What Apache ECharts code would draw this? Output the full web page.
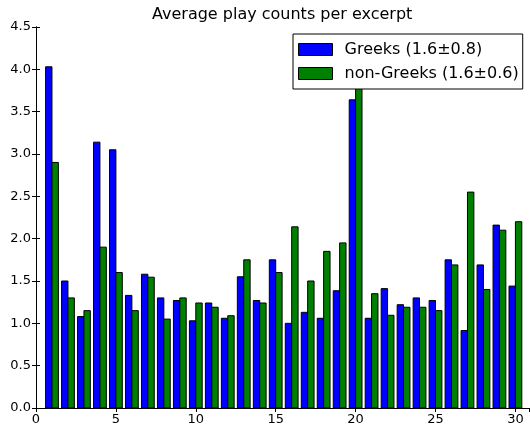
<!DOCTYPE html>
<html>
<head>
<meta charset="utf-8">
<script src="https://cdn.jsdelivr.net/npm/echarts@6/dist/echarts.min.js"></script>
<style>
  html, body { margin: 0; padding: 0; background: #fff; }
  #chart { width: 530px; height: 426px; }
</style>
</head>
<body>
<div id="chart"></div>
<script>
// Excerpt numbers along the x axis
const excerpts = [1, 2, 3, 4, 5, 6, 7, 8, 9, 10, 11, 12, 13, 14, 15,
                  16, 17, 18, 19, 20, 21, 22, 23, 24, 25, 26, 27, 28, 29, 30];

// Average play counts per excerpt for each listener group
const greeks = [4.03, 1.50, 1.08, 3.14, 3.05, 1.33, 1.58, 1.30, 1.27, 1.03,
                1.24, 1.06, 1.55, 1.27, 1.75, 1.00, 1.13, 1.06, 1.385, 3.64,
                1.06, 1.41, 1.22, 1.30, 1.27, 1.75, 0.915, 1.69, 2.16, 1.44];
const nonGreeks = [2.90, 1.30, 1.15, 1.90, 1.60, 1.15, 1.545, 1.05, 1.30, 1.24,
                   1.19, 1.09, 1.75, 1.24, 1.60, 2.14, 1.50, 1.85, 1.95, 3.95,
                   1.35, 1.095, 1.19, 1.19, 1.15, 1.69, 2.55, 1.40, 2.10, 2.20];

const seriesNames = ['Greeks (1.6\u00b10.8)', 'non-Greeks (1.6\u00b10.6)'];
const xTicks = [0, 5, 10, 15, 20, 25, 30];
const yTicks = [0, 0.5, 1, 1.5, 2, 2.5, 3, 3.5, 4, 4.5];

const FONT = 'DejaVu Sans';
const BLUE = '#0000ff';
const GREEN = '#008000';
const BAR_W = 0.4;

// Each bar spans [x + offset, x + offset + BAR_W] in data units
function barRenderer(offset, color) {
  return function (params, api) {
    const x = api.value(0);
    const y = api.value(1);
    const topLeft = api.coord([x + offset, y]);
    const bottomRight = api.coord([x + offset + BAR_W, 0]);
    return {
      type: 'rect',
      shape: {
        x: topLeft[0],
        y: topLeft[1],
        width: bottomRight[0] - topLeft[0],
        height: bottomRight[1] - topLeft[1]
      },
      style: { fill: color, stroke: '#000', lineWidth: 1 }
    };
  };
}

const X_MIN = 0, X_MAX = 30.85, Y_MIN = 0, Y_MAX = 4.5;

const tickStyle = { show: true, inside: true, length: 4, lineStyle: { color: '#000', width: 1 } };
const axisLineStyle = { show: true, lineStyle: { color: '#000', width: 1 } };
const labelStyle = { color: '#000', fontFamily: FONT, fontSize: 13 };

const chart = echarts.init(document.getElementById('chart'), null, { renderer: 'canvas' });
chart.setOption({
  animation: false,
  backgroundColor: '#fff',
  title: {
    text: 'Average play counts per excerpt',
    left: 152,
    top: 7,
    padding: 0,
    textStyle: { fontFamily: FONT, fontSize: 16, fontWeight: 'normal', color: '#000' }
  },
  grid: { left: 36, right: 1, top: 27, bottom: 16, containLabel: false },
  legend: {
    orient: 'vertical',
    left: 293,
    top: 34,
    padding: [7.5, 4, 7.5, 5],
    itemGap: 8,
    itemWidth: 34,
    itemHeight: 12,
    backgroundColor: '#fff',
    borderColor: '#000',
    borderWidth: 1,
    borderRadius: 0,
    textStyle: { fontFamily: FONT, fontSize: 16, color: '#000', lineHeight: 16, padding: [0, 0, 0, 7] },
    data: [
      { name: seriesNames[0], icon: 'rect', itemStyle: { color: BLUE, borderColor: '#000', borderWidth: 1 } },
      { name: seriesNames[1], icon: 'rect', itemStyle: { color: GREEN, borderColor: '#000', borderWidth: 1 } }
    ]
  },
  xAxis: [
    {
      type: 'value', position: 'bottom', min: X_MIN, max: X_MAX, interval: 5,
      axisLine: axisLineStyle, axisTick: tickStyle, splitLine: { show: false },
      axisLabel: Object.assign({}, labelStyle, {
        margin: 5, showMaxLabel: false,
        formatter: v => (xTicks.indexOf(v) >= 0 ? String(v) : '')
      })
    },
    {
      type: 'value', position: 'top', min: X_MIN, max: X_MAX, interval: 5,
      axisLine: axisLineStyle, axisTick: tickStyle, splitLine: { show: false },
      axisLabel: { show: false }
    }
  ],
  yAxis: [
    {
      type: 'value', position: 'left', min: Y_MIN, max: Y_MAX, interval: 0.5,
      axisLine: axisLineStyle, axisTick: tickStyle, splitLine: { show: false },
      axisLabel: Object.assign({}, labelStyle, {
        margin: 5,
        formatter: v => (yTicks.indexOf(v) >= 0 ? v.toFixed(1) : '')
      })
    },
    {
      type: 'value', position: 'right', min: Y_MIN, max: Y_MAX, interval: 0.5,
      axisLine: axisLineStyle, axisTick: tickStyle, splitLine: { show: false },
      axisLabel: { show: false }
    }
  ],
  series: [
    {
      name: seriesNames[0],
      type: 'custom',
      xAxisIndex: 0, yAxisIndex: 0,
      itemStyle: { color: BLUE, borderColor: '#000', borderWidth: 1 },
      encode: { x: 0, y: 1 },
      renderItem: barRenderer(-BAR_W, BLUE),
      data: excerpts.map((e, i) => [e, greeks[i]])
    },
    {
      name: seriesNames[1],
      type: 'custom',
      xAxisIndex: 0, yAxisIndex: 0,
      itemStyle: { color: GREEN, borderColor: '#000', borderWidth: 1 },
      encode: { x: 0, y: 1 },
      renderItem: barRenderer(0, GREEN),
      data: excerpts.map((e, i) => [e, nonGreeks[i]])
    }
  ]
});
</script>
</body>
</html>
